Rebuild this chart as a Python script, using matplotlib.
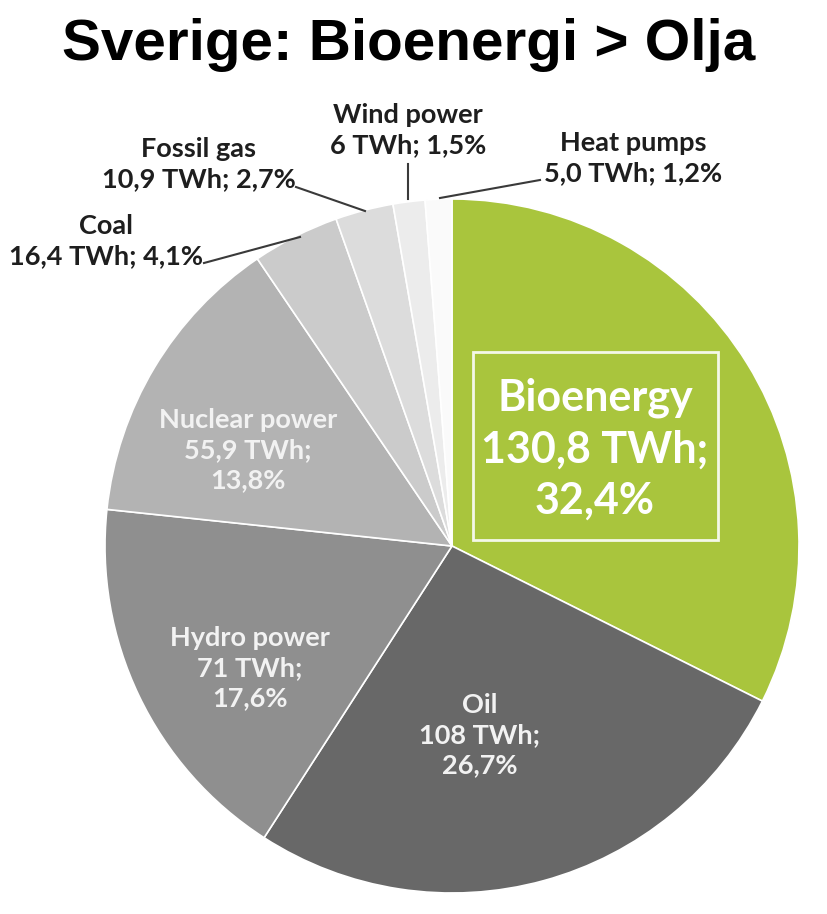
import matplotlib.pyplot as plt
from matplotlib.patches import Rectangle

# data
sources = ['Bioenergy', 'Oil', 'Hydro power', 'Nuclear power', 'Coal',
           'Fossil gas', 'Wind power', 'Heat pumps']
twh = [130.8, 108, 71, 55.9, 16.4, 10.9, 6, 5.0]
twh_text = ['130,8', '108', '71', '55,9', '16,4', '10,9', '6', '5,0']
share_text = ['32,4%', '26,7%', '17,6%', '13,8%', '4,1%', '2,7%', '1,5%', '1,2%']
colors = ['#a9c53d', '#686868', '#8f8f8f', '#b3b3b3', '#cbcbcb',
          '#dcdcdc', '#ececec', '#fafafa']

W, H = 828, 914
fig = plt.figure(figsize=(W / 100, H / 100), dpi=100)
ax = fig.add_axes([0, 0, 1, 1])

cx, cy, r = 452, H - 546, 347
ax.pie(twh, colors=colors, startangle=90, counterclock=False,
       center=(cx, cy), radius=r,
       wedgeprops=dict(edgecolor='white', linewidth=1.2))
ax.set_xlim(0, W)
ax.set_ylim(0, H)
ax.set_aspect('auto')
ax.axis('off')

lab_font = 'Lato'

fig.text(0.493, 1 - 45 / H, 'Sverige: Bioenergi > Olja', ha='center', va='center',
         fontsize=42, fontweight='bold', family='Liberation Sans', color='black')


def px(x, y):
    return x, H - y


# labels inside the pie
ax.text(*px(595, 449), f'{sources[0]}\n{twh_text[0]} TWh;\n{share_text[0]}',
        ha='center', va='center', fontsize=31, family=lab_font, color='white',
        fontweight='bold', linespacing=1.35)
ax.add_patch(Rectangle((473, H - 540), 245, 188, fill=False, ec='#f4f8e8', lw=2))

inner = {1: (480, 735), 2: (250, 668), 3: (248, 450)}
for i, (x, y) in inner.items():
    ax.text(*px(x, y), f'{sources[i]}\n{twh_text[i]} TWh;\n{share_text[i]}',
            ha='center', va='center', fontsize=19.5, family=lab_font,
            fontweight='bold', color='#f2f2f2', linespacing=1.3)

# labels outside the pie with leader lines
outer = {4: ((106, 241), (204, 263), (300, 237)),
         5: ((199, 164), (296, 187), (365, 211)),
         6: ((408, 130), (408, 164), (408, 199)),
         7: ((633, 158), (540, 180), (440, 198))}
for i, ((x, y), p0, p1) in outer.items():
    ax.text(*px(x, y), f'{sources[i]}\n{twh_text[i]} TWh; {share_text[i]}',
            ha='center', va='center', fontsize=19.5, family=lab_font,
            fontweight='bold', color='#1e1e1e', linespacing=1.3)
    ax.plot([p0[0], p1[0]], [H - p0[1], H - p1[1]], color='#3a3a3a', lw=1.5)

fig.savefig('out.png', dpi=100, facecolor='white')
